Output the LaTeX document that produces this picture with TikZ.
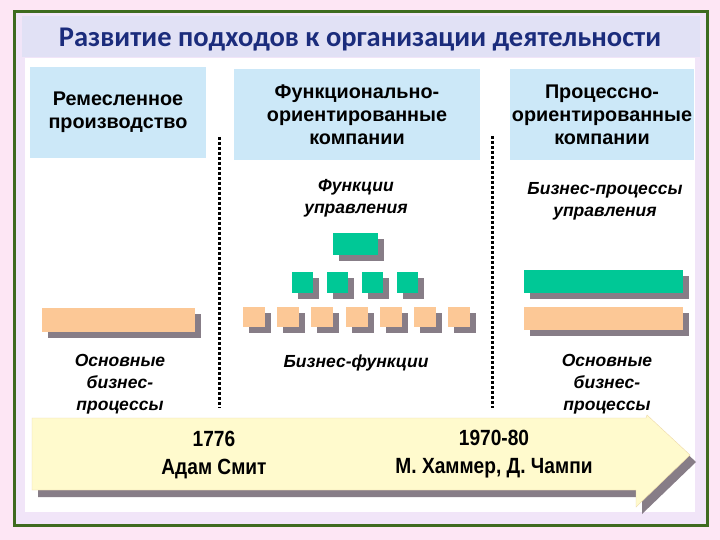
\documentclass[tikz,border=0pt]{standalone}
\usepackage{fontspec}
\setmainfont{Liberation Sans}
\newfontfamily\titlefont{Carlito}
\newfontfamily\narrowfont[FakeStretch=0.87]{Liberation Sans}
\usetikzlibrary{shadows}
\definecolor{pagepink}{HTML}{FDE6F4}
\definecolor{framelav}{HTML}{F1E5F8}
\definecolor{framegreen}{HTML}{3E6B1F}
\definecolor{titleband}{HTML}{E1E1F5}
\definecolor{titleblue}{HTML}{1B2C7C}
\definecolor{headblue}{HTML}{CCE8F8}
\definecolor{mintgreen}{HTML}{00C896}
\definecolor{peach}{HTML}{FCC896}
\definecolor{shadegray}{HTML}{877D87}
\definecolor{arrowyellow}{HTML}{FFFACD}
\definecolor{arrowedge}{HTML}{EED9A8}

\begin{document}
\begin{tikzpicture}[x=1pt,y=-1pt,
  header/.style={fill=headblue,align=center,inner sep=0pt,
    font=\fontsize{19.8}{23}\selectfont\bfseries},
  italnote/.style={align=center,inner sep=0pt,
    font=\fontsize{17.5}{22}\selectfont\bfseries\itshape},
  block/.style={inner sep=0pt,
    general shadow={fill=shadegray,shadow xshift=6pt,shadow yshift=-6pt}},
  greenblock/.style={block,fill=mintgreen},
  peachblock/.style={block,fill=peach},
  divider/.style={line width=3pt,dash pattern=on 3pt off 2pt},
  yearnote/.style={align=center,inner sep=0pt,
    font=\fontsize{22}{28}\selectfont\narrowfont\bfseries}]
  % page, frame and title
  \fill[pagepink] (0,0) rectangle (720,540);
  \useasboundingbox (0,0) rectangle (720,540);
  \fill[framelav] (14,12) rectangle (707,525);
  \draw[framegreen,line width=3pt] (14,12) rectangle (707,525);
  \fill[titleband] (22,16) rectangle (700,57);
  \fill[white] (25,58) rectangle (695,512);
  \node[titleblue,font=\fontsize{28.5}{32}\selectfont\titlefont\bfseries] (title) at (360,40)
    {Развитие подходов к организации деятельности};

  % column headers
  \node[header,minimum width=176pt,minimum height=91pt] (craft) at (118,112.5)
    {Ремесленное\\производство};
  \node[header,minimum width=246pt,minimum height=91pt] (func) at (357,114.5)
    {Функционально-\\ориентированные\\компании};
  \node[header,minimum width=184pt,minimum height=91pt] (proc) at (602,114.5)
    {Процессно-\\ориентированные\\компании};

  % dividers
  \draw[divider] (219,137) -- (219,408);
  \draw[divider] (492,136) -- (492,408);

  % left column
  \node[peachblock,minimum width=153pt,minimum height=24pt] (craftbar) at (118.5,320) {};
  \node[italnote] (craftcore) at (120,384) {Основные\\бизнес-\\процессы};

  % middle column
  \node[italnote] (mgmtfunc) at (356,198) {Функции\\управления};
  \node[greenblock,minimum width=45pt,minimum height=22pt] (chief) at (355.5,244) {};
  \foreach \i/\x in {1/302,2/337,3/372,4/407}
    \node[greenblock,minimum width=21pt,minimum height=21pt] (dept\i) at (\x,282.5) {};
  \foreach \i/\x in {1/254,2/288,3/322,4/357,5/391,6/425,7/459}
    \node[peachblock,minimum width=22pt,minimum height=20pt] (unit\i) at (\x,317) {};
  \node[italnote] (bizfunc) at (356,363) {Бизнес-функции};

  % right column
  \node[italnote] (mgmtproc) at (605,201) {Бизнес-процессы\\управления};
  \node[greenblock,minimum width=159pt,minimum height=23pt] (procbar) at (603.5,281.5) {};
  \node[peachblock,minimum width=159pt,minimum height=23pt] (corebar) at (603.5,318.5) {};
  \node[italnote] (proccore) at (607,384) {Основные\\бизнес-\\процессы};

  % time arrow
  \draw[arrowedge,fill=arrowyellow,
    general shadow={fill=shadegray,shadow xshift=6pt,shadow yshift=-7pt}]
    (32,418) -- (646,418) -- (647,415) -- (690,455) -- (636,507) -- (636,490)
    -- (32,490) -- cycle;
  \node[yearnote] (smith) at (214,455) {1776\\Адам Смит};
  \node[yearnote] (hammer) at (494,454) {1970-80\\М. Хаммер, Д. Чампи};
\end{tikzpicture}
\end{document}
